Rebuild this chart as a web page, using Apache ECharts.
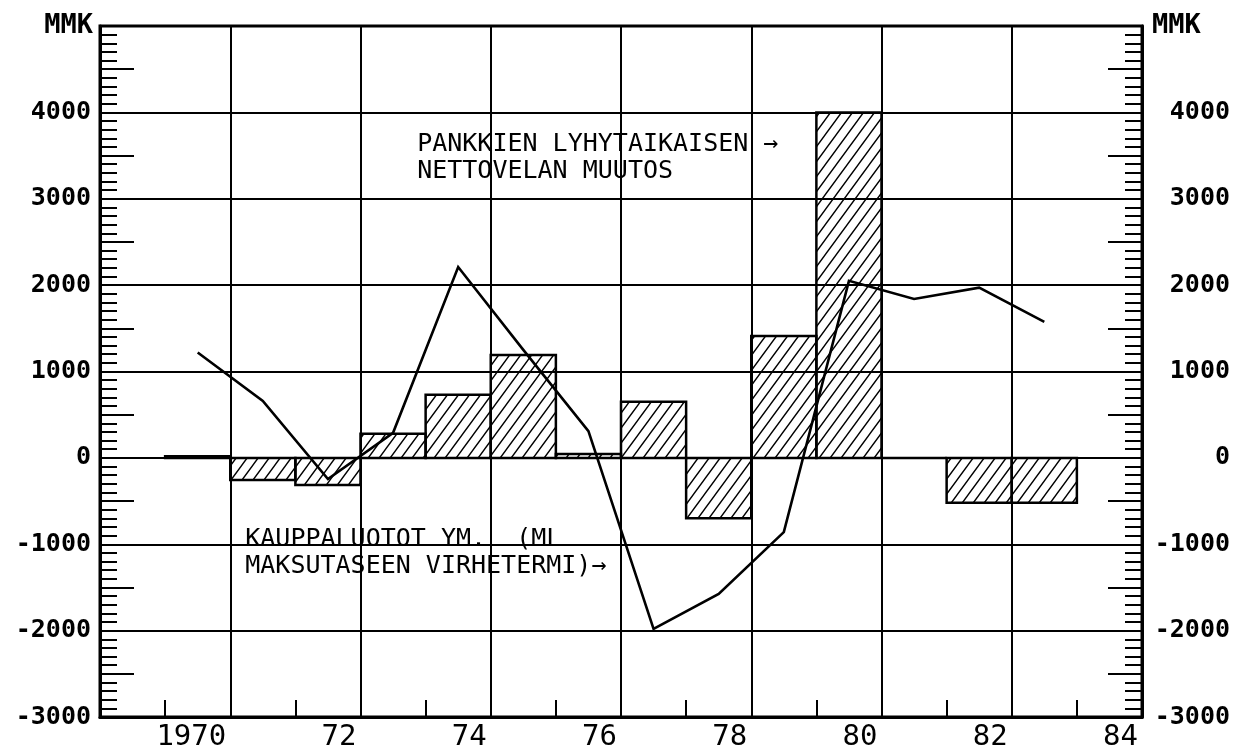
<!DOCTYPE html>
<html><head><meta charset="utf-8">
<script src="https://cdn.jsdelivr.net/npm/echarts@6/dist/echarts.min.js"></script>
<style>html,body{margin:0;padding:0;background:#fff}#c{width:1247px;height:752px}</style>
</head><body><div id="c"></div>
<script>
// ---- data ----
const barStartYears = [1970,1971,1972,1973,1974,1975,1976,1977,1978,1979,1980,1981,1982,1983];
const barValues     = [20,-255,-315,280,730,1190,45,650,-700,1410,4000,0,-520,-520];
const lineYears  = [1970.5,1971.5,1972.5,1973.5,1974.5,1975.5,1976.5,1977.5,1978.5,1979.5,1980.5,1981.5,1982.5,1983.5];
const lineValues = [1220,660,-245,290,2210,1250,310,-1980,-1575,-860,2050,1840,1970,1575];
const xLabelYears = [1970,1972,1974,1976,1978,1980,1982,1984];
const xLabelTexts = ['1970','72','74','76','78','80','82','84'];
const xTickYears  = [1970,1972,1974,1976,1978,1980,1982,1984];
const unitLabel = 'MMK';
const annotations = [
  {text: 'PANKKIEN LYHYTAIKAISEN →\nNETTOVELAN MUUTOS', at: [1973.87, 3785]},
  {text: 'KAUPPALUOTOT YM.  (ML\nMAKSUTASEEN VIRHETERMI)→', at: [1971.23, -787]}
];

// ---- styles ----
const MONO = '"DejaVu Sans Mono", "Liberation Mono", monospace';
function hatchCanvas(){
  const w = 11, h = 15;
  const c = document.createElement('canvas'); c.width = w; c.height = h;
  const g = c.getContext('2d');
  g.strokeStyle = '#000'; g.lineWidth = 1.4; g.lineCap = 'square';
  g.beginPath();
  g.moveTo(-w, 2*h); g.lineTo(2*w, -h);
  g.moveTo(-2*w, 2*h); g.lineTo(w, -h);
  g.moveTo(0, 2*h); g.lineTo(3*w, -h);
  g.stroke();
  return c;
}
const hatch = {type: 'pattern', image: hatchCanvas(), repeat: 'repeat'};

const chart = echarts.init(document.getElementById('c'), null, {renderer: 'canvas'});
const axisLineStyle = {color: '#000', width: 3};
const numLabel = {color: '#000', fontFamily: MONO, fontWeight: 'bold', fontSize: 25};
const yFmt = v => (v === 5000 ? '' : String(v));

const option = {
  animation: false,
  backgroundColor: '#fff',
  grid: {left: 100, right: 105, top: 26, bottom: 35, show: true, borderColor: '#000', borderWidth: 3, backgroundColor: 'transparent'},
  xAxis: [{
    type: 'value', min: 1969, max: 1985, interval: 2, position: 'bottom',
    axisLine: {show: true, onZero: false, lineStyle: axisLineStyle},
    axisTick: {show: false},
    axisLabel: {
      color: '#000', fontFamily: MONO, fontSize: 29, margin: 6, align: 'right', padding: [0, 4, 0, 0],
      formatter: v => { const i = xLabelYears.indexOf(Math.round(v) - 1); return i >= 0 ? xLabelTexts[i] : ''; }
    },
    splitLine: {show: true, lineStyle: {color: '#000', width: 2}}
  }, {
    type: 'value', min: 1969, max: 1985, interval: 1, position: 'bottom', offset: 0,
    axisLine: {show: false, onZero: false},
    axisTick: {show: true, inside: true, length: 17, customValues: xTickYears, lineStyle: {color: '#000', width: 2}},
    axisLabel: {show: false},
    splitLine: {show: false}
  }],
  yAxis: [{
    type: 'value', min: -3000, max: 5000, interval: 1000, position: 'left',
    name: unitLabel, nameLocation: 'end', nameGap: 0,
    nameTextStyle: {color: '#000', fontFamily: MONO, fontWeight: 'bold', fontSize: 27, align: 'right', verticalAlign: 'middle', padding: [0, 7, 0, 0]},
    axisLine: {show: true, lineStyle: axisLineStyle},
    axisTick: {show: true, inside: true, length: 17, lineStyle: {color: '#000', width: 2}},
    minorTick: {show: true, splitNumber: 10, length: 17, lineStyle: {color: '#000', width: 2}},
    axisLabel: Object.assign({margin: 9, formatter: yFmt}, numLabel),
    splitLine: {show: true, lineStyle: {color: '#000', width: 2}}
  }, {
    type: 'value', min: -3000, max: 5000, interval: 500, position: 'left',
    axisLine: {show: false}, axisLabel: {show: false}, splitLine: {show: false},
    axisTick: {show: true, inside: true, length: 34, lineStyle: {color: '#000', width: 2}}
  }, {
    type: 'value', min: -3000, max: 5000, interval: 1000, position: 'right',
    name: unitLabel, nameLocation: 'end', nameGap: 0,
    nameTextStyle: {color: '#000', fontFamily: MONO, fontWeight: 'bold', fontSize: 27, align: 'left', verticalAlign: 'middle', padding: [0, 0, 0, 10]},
    axisLine: {show: true, lineStyle: axisLineStyle},
    axisTick: {show: true, inside: true, length: 17, lineStyle: {color: '#000', width: 2}},
    minorTick: {show: true, splitNumber: 10, length: 17, lineStyle: {color: '#000', width: 2}},
    axisLabel: Object.assign({margin: 88, align: 'right', formatter: yFmt}, numLabel),
    splitLine: {show: false}
  }, {
    type: 'value', min: -3000, max: 5000, interval: 500, position: 'right',
    axisLine: {show: false}, axisLabel: {show: false}, splitLine: {show: false},
    axisTick: {show: true, inside: true, length: 34, lineStyle: {color: '#000', width: 2}}
  }],
  series: [{
    type: 'custom', name: 'bars', xAxisIndex: 0, yAxisIndex: 0, z: 3,
    data: barStartYears.map((y, i) => [y, barValues[i]]),
    encode: {x: 0, y: 1},
    renderItem: function(params, api){
      const x0 = api.value(0), v = api.value(1);
      const p0 = api.coord([x0, 0]);
      const p1 = api.coord([x0 + 1, v]);
      return {
        type: 'rect',
        shape: {x: p0[0], y: Math.min(p0[1], p1[1]), width: p1[0] - p0[0], height: Math.abs(p1[1] - p0[1])},
        style: {fill: hatch, stroke: '#000', lineWidth: 2.5}
      };
    }
  }, {
    type: 'line', name: 'line', xAxisIndex: 0, yAxisIndex: 0, z: 5,
    data: lineYears.map((y, i) => [y, lineValues[i]]),
    showSymbol: false, symbol: 'none',
    lineStyle: {color: '#000', width: 2.6, join: 'miter'}
  }]
};
chart.setOption(option);

const graphics = annotations.map(a => {
  const p = chart.convertToPixel({xAxisIndex: 0, yAxisIndex: 0}, a.at);
  return {
    type: 'text', x: p[0], y: p[1], z: 10,
    style: {text: a.text, fill: '#000', font: '25px ' + MONO, lineHeight: 27, verticalAlign: 'top', align: 'left'}
  };
});
chart.setOption({graphic: graphics});
</script>
</body></html>
